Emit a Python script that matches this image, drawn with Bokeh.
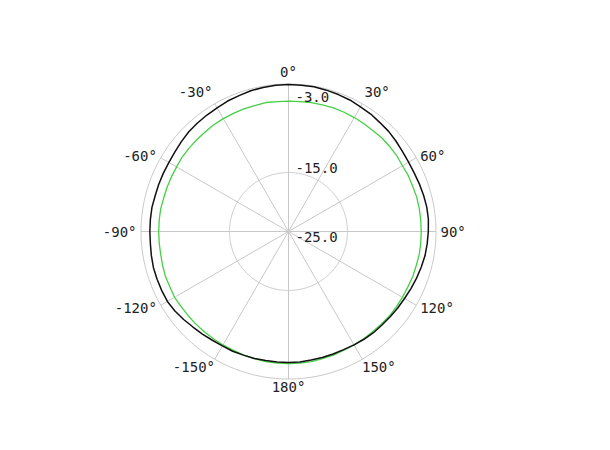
import numpy as np
from bokeh.plotting import figure
from bokeh.models import Range1d, ColumnDataSource
from bokeh.core.properties import value
from bokeh.embed import file_html
from bokeh.resources import INLINE

# ---- data (dB), angle clockwise from top ----
angles_deg = list(range(0, 360, 5))
black_db = [-0.1, -0.1, -0.1, -0.2, -0.3, -0.4, -0.6, -0.7, -0.9, -1.0, -1.2, -1.4,
            -1.5, -1.5, -1.4, -1.3, -1.2, -1.2, -1.3, -1.4, -1.5, -1.7, -1.9, -2.1,
            -2.3, -2.4, -2.5, -2.6, -2.6, -2.7, -2.8, -2.9, -2.9, -2.9, -2.9, -2.8,
            -2.8, -2.8, -2.8, -2.7, -2.7, -2.6, -2.6, -2.5, -2.3, -2.1, -1.8, -1.5,
            -1.3, -1.3, -1.3, -1.3, -1.4, -1.5, -1.5, -1.5, -1.5, -1.6, -1.6, -1.6,
            -1.6, -1.5, -1.3, -1.1, -1.0, -0.9, -0.8, -0.6, -0.5, -0.3, -0.2, -0.1]
green_db = [-2.9, -2.9, -2.8, -2.8, -2.7, -2.7, -2.7, -2.7, -2.7, -2.6, -2.6, -2.6,
            -2.7, -2.6, -2.6, -2.5, -2.5, -2.5, -2.5, -2.5, -2.5, -2.6, -2.6, -2.7,
            -2.7, -2.7, -2.7, -2.8, -2.8, -2.8, -2.8, -2.8, -2.7, -2.7, -2.6, -2.6,
            -2.6, -2.6, -2.6, -2.7, -2.7, -2.8, -2.8, -2.8, -2.8, -2.8, -2.8, -2.8,
            -2.7, -2.8, -2.8, -2.9, -3.0, -3.0, -3.0, -3.0, -3.0, -3.1, -3.1, -3.1,
            -3.1, -3.0, -3.0, -3.0, -3.0, -2.9, -2.9, -2.9, -2.9, -2.9, -2.8, -2.9]
ring_db = [-15.0, 0.0]
ring_labels = ["-3.0", "-15.0", "-25.0"]
ring_label_db = [-3.0, -15.0, -25.0]
spoke_angles = [0, 30, 60, 90, 120, 150, 180, 210, 240, 270, 300, 330]
spoke_labels = ["0°", "30°", "60°", "90°", "120°", "150°", "180°", "-150°", "-120°", "-90°", "-60°", "-30°"]

R_MIN, R_MAX = -25.0, 0.0


def rad(db):
    return (np.asarray(db, dtype=float) - R_MIN) / (R_MAX - R_MIN)


def xy(ang, db):
    t = np.deg2rad(np.asarray(ang, dtype=float))
    r = rad(db)
    return r * np.sin(t), r * np.cos(t)


W, H = 600, 440
PX = 147.5  # pixels per unit radius
cx, cy = 288, 231
p = figure(width=W, height=H, output_backend="svg", toolbar_location=None,
           x_range=Range1d(-cx / PX, (W - cx) / PX), y_range=Range1d(-(H - cy) / PX, cy / PX),
           min_border=0)
p.axis.visible = False
p.grid.visible = False
p.outline_line_color = None
p.background_fill_color = "white"
p.border_fill_color = "white"

grid_col = "#c8c8c8"
th = np.linspace(0, 2 * np.pi, 361)
for d in ring_db:
    rr = rad(d)
    p.line(rr * np.sin(th), rr * np.cos(th), line_color=grid_col, line_width=1)
sx, sy = xy(spoke_angles, [R_MAX] * len(spoke_angles))
p.segment(x0=[0] * len(sx), y0=[0] * len(sy), x1=sx, y1=sy, line_color=grid_col, line_width=1)

ang_closed = angles_deg + [360]
bx, by = xy(ang_closed, black_db + black_db[:1])
gx, gy = xy(ang_closed, green_db + green_db[:1])
p.line(gx, gy, line_color="#44d044", line_width=1.3)
p.line(bx, by, line_color="#111111", line_width=1.5)

aligns, baselines, lx, ly = [], [], [], []
for a in spoke_angles:
    t = np.deg2rad(a)
    s, c = np.sin(t), np.cos(t)
    lr = (147 if c < -0.6 else 152) / PX
    lx.append(lr * s)
    ly.append(lr * c)
    aligns.append("left" if s > 0.1 else ("right" if s < -0.1 else "center"))
    baselines.append("bottom" if c > 0.6 else ("top" if c < -0.6 else "middle"))
src = ColumnDataSource(dict(x=lx, y=ly, t=spoke_labels, a=aligns, b=baselines))
p.text(x="x", y="y", text="t", text_align="a", text_baseline="b", source=src,
       text_font=value("DejaVu Sans Mono"), text_font_size="14px", text_color="#222222")

rl_y = [rad(v) for v in ring_label_db]
rl_base = ["bottom", "bottom", "top"]
src2 = ColumnDataSource(dict(x=[7 / PX] * 3, y=rl_y, t=ring_labels, b=rl_base))
p.text(x="x", y="y", text="t", text_align="left", text_baseline="b", source=src2,
       text_font=value("DejaVu Sans Mono"), text_font_size="14px", text_color="#222222")

open("out.html", "w").write(file_html(p, INLINE))
